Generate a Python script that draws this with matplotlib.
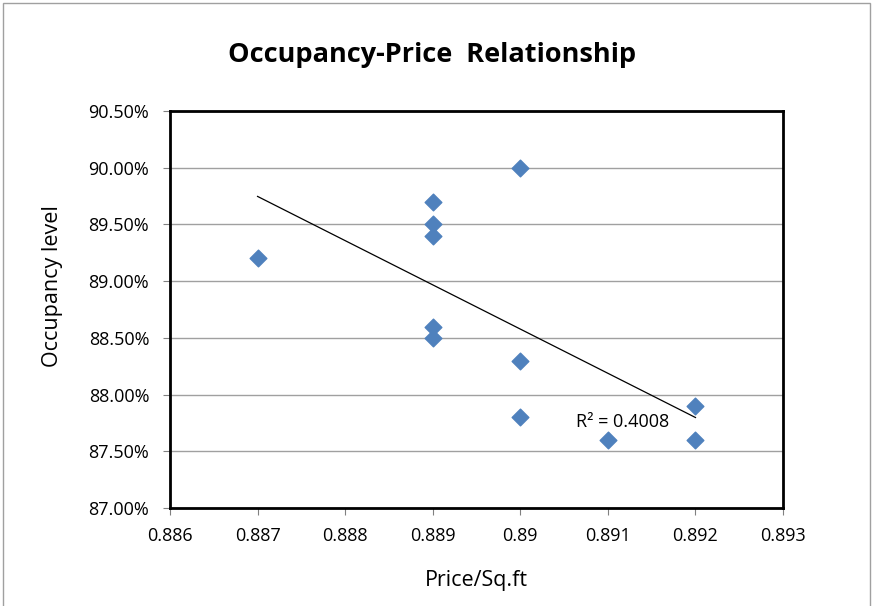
import numpy as np
import matplotlib.pyplot as plt
from matplotlib.patches import Rectangle
from matplotlib.ticker import FuncFormatter

# datos
price = [0.887, 0.889, 0.889, 0.889, 0.889, 0.889, 0.890, 0.890, 0.890, 0.891, 0.892, 0.892]
occupancy = [89.2, 89.7, 89.5, 89.4, 88.6, 88.5, 90.0, 88.3, 87.8, 87.6, 87.9, 87.6]
xticks = [0.886, 0.887, 0.888, 0.889, 0.890, 0.891, 0.892, 0.893]
xticklabels = ['0.886', '0.887', '0.888', '0.889', '0.89', '0.891', '0.892', '0.893']
yticks = [87.0, 87.5, 88.0, 88.5, 89.0, 89.5, 90.0, 90.5]
r2_text = 'R² = 0.4008'

plt.rcParams['font.family'] = ['Open Sans', 'DejaVu Sans']

fig = plt.figure(figsize=(8.73, 6.06), dpi=100)
ax = fig.add_axes([0.1947, 0.1617, 0.7023, 0.6551])

# borde exterior del grafico
fig.patches.append(Rectangle((0.004, -0.01), 0.992, 1.005, transform=fig.transFigure,
                             fill=False, edgecolor='#a0a0a0', linewidth=1))

ax.scatter(price, occupancy, marker='D', s=72, color='#4f81bd', zorder=3)

# linea de tendencia lineal
p = np.polyfit(price, occupancy, 1)
xt = np.array([min(price), max(price)])
ax.plot(xt, np.polyval(p, xt), color='black', lw=0.9, zorder=2)
ax.text(0.89063, 87.76, r2_text, fontsize=13, ha='left', va='center')

ax.set_xlim(0.886, 0.893)
ax.set_ylim(87.0, 90.5)
ax.set_xticks(xticks)
ax.set_xticklabels(xticklabels)
ax.set_yticks(yticks)
ax.yaxis.set_major_formatter(FuncFormatter(lambda v, pos: '%.2f%%' % v))
ax.tick_params(labelsize=13, length=5, direction='out', color='#808080')
ax.tick_params(axis='x', pad=9)
ax.tick_params(axis='y', pad=10)
ax.grid(axis='y', color='#a0a0a0', lw=1)
ax.set_axisbelow(True)
for s in ax.spines.values():
    s.set_linewidth(2)
    s.set_color('black')

ax.set_xlabel('Price/Sq.ft', fontsize=15.5, labelpad=18)
ax.set_ylabel('Occupancy level', fontsize=15.5, va='center')
ax.yaxis.set_label_coords(-0.192, 0.559)
fig.text(0.495, 0.909, 'Occupancy-Price  Relationship', fontsize=19.5, fontweight='bold',
         ha='center', va='center')

fig.savefig('out.png', dpi=100)
